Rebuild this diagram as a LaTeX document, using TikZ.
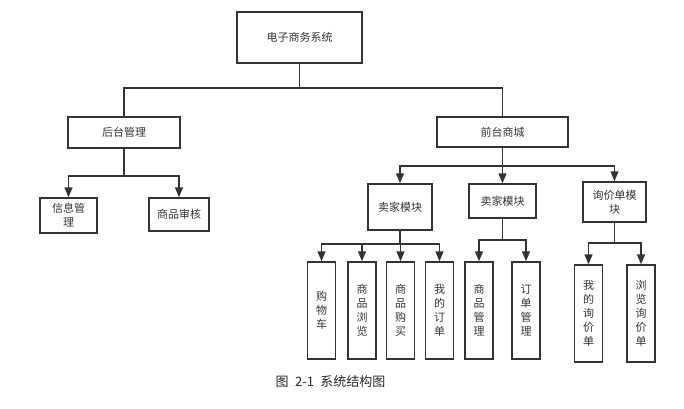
\documentclass[tikz,border=0pt]{standalone}
\usepackage{fontspec}
\setmainfont{Noto Sans CJK SC}
\usetikzlibrary{arrows.meta}

\begin{document}
\begin{tikzpicture}[x=1pt, y=-1pt, >={Triangle[width=8pt,length=10pt]},
    line width=1.5pt, draw=black!80,
    box/.style={draw=black!80, rectangle, inner sep=0pt, align=center,
        font=\fontsize{11}{14}\selectfont, text=black!80},
    vbox/.style={box, minimum width=28pt, minimum height=97pt}]
    \useasboundingbox (0,0) rectangle (684,408);

    \node[box, minimum width=125pt, minimum height=51pt] (sys) at (299.5,37.5) {电子商务系统};

    \node[box, minimum width=112pt, minimum height=31pt] (back) at (124,132.5) {后台管理};
    \node[box, minimum width=131pt, minimum height=30pt] (front) at (502.5,132) {前台商城};

    \node[box, minimum width=57pt, minimum height=35pt] (info) at (68.5,215.5) {信息管\\理};
    \node[box, minimum width=60pt, minimum height=33pt] (audit) at (179,214.5) {商品审核};

    \node[box, minimum width=64pt, minimum height=46pt] (seller1) at (400,207) {卖家模块};
    \node[box, minimum width=67pt, minimum height=34pt] (seller2) at (502.5,201) {卖家模块};
    \node[box, minimum width=63pt, minimum height=40pt] (inquiry) at (614.5,202) {询价单模\\块};

    \node[vbox] (cart) at (321.5,310.5) {购\\物\\车};
    \node[vbox] (browse) at (362,310.5) {商\\品\\浏\\览};
    \node[vbox] (buy) at (400.5,310.5) {商\\品\\购\\买};
    \node[vbox] (myorder) at (439.5,310.5) {我\\的\\订\\单};
    \node[vbox] (goods) at (479,310.5) {商\\品\\管\\理};
    \node[vbox] (orders) at (526,310.5) {订\\单\\管\\理};
    \node[vbox] (myinq) at (588.5,313.5) {我\\的\\询\\价\\单};
    \node[vbox] (browseinq) at (641,313.5) {浏\\览\\询\\价\\单};

    % bus points
    \coordinate (busA) at (299.5,88);
    \coordinate (busB) at (124,176);
    \coordinate (busC) at (502.5,166);
    \coordinate (busD) at (400,244);
    \coordinate (busE) at (502.5,240);
    \coordinate (busF) at (614.5,243);

    \draw (sys.south) -- (busA);
    \draw (busA) -| (back.north);
    \draw (busA) -| (front.north);

    \draw (back.south) -- (busB);
    \draw[->] (busB) -| (info.north);
    \draw[->] (busB) -| (audit.north);

    \draw (front.south) -- (busC);
    \draw[->] (busC) -| (seller1.north);
    \draw[->] (busC) -- (seller2.north);
    \draw[->] (busC) -| (inquiry.north);

    \draw (seller1.south) -- (busD);
    \draw[->] (busD) -| (cart.north);
    \draw[->] (busD) -| (browse.north);
    \draw[->] (busD) -| (buy.north);
    \draw[->] (busD) -| (myorder.north);

    \draw (seller2.south) -- (busE);
    \draw[->] (busE) -| (goods.north);
    \draw[->] (busE) -| (orders.north);

    \draw (inquiry.south) -- (busF);
    \draw[->] (busF) -| (myinq.north);
    \draw[->] (busF) -| (browseinq.north);

    \node[font=\fontsize{13}{15}\selectfont, text=black!85] (caption) at (330.5,382) {图\hspace{0.5em}2-1\hspace{0.5em}系统结构图};
\end{tikzpicture}
\end{document}
